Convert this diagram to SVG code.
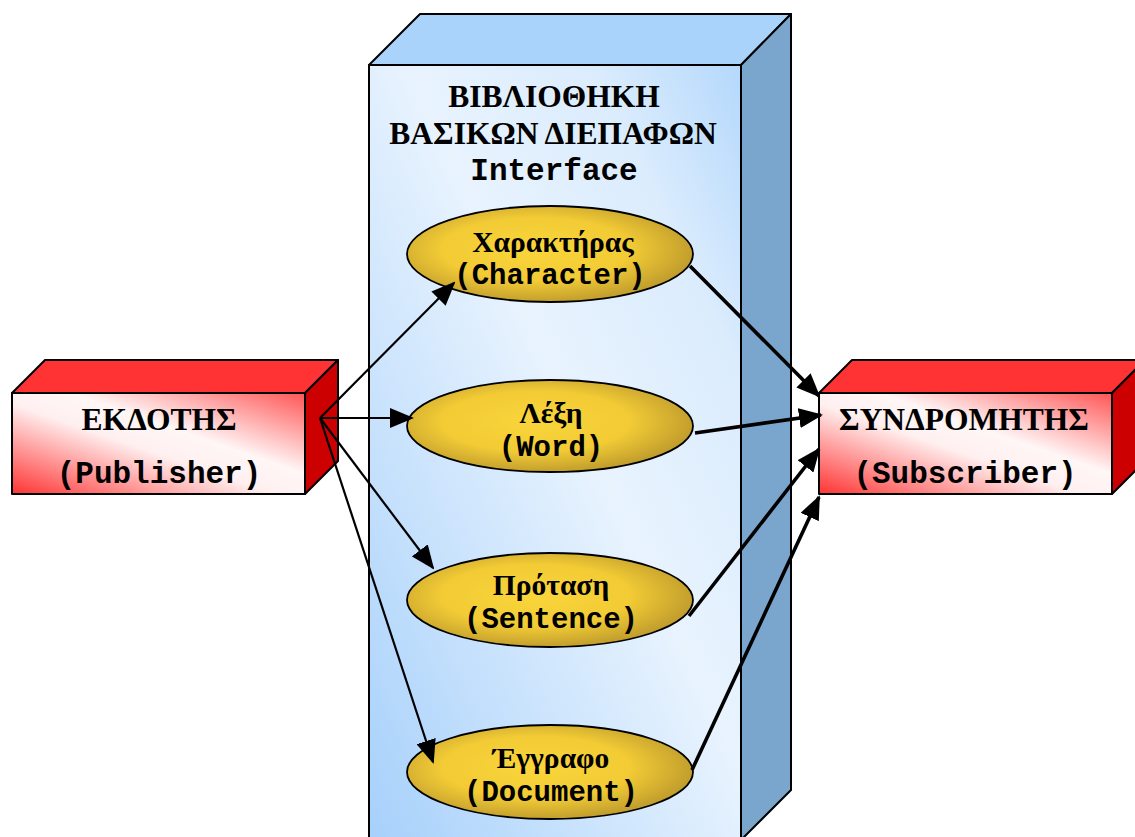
<svg xmlns="http://www.w3.org/2000/svg" width="1135" height="837" viewBox="0 0 1135 837">
<defs>
<linearGradient id="libFront" x1="0" y1="1" x2="1" y2="0">
<stop offset="0" stop-color="#a6d0fb"/>
<stop offset="0.55" stop-color="#e8f3fe"/>
<stop offset="0.8" stop-color="#dbecfd"/>
<stop offset="1" stop-color="#b4d8fc"/>
</linearGradient>
<linearGradient id="redFront" x1="0" y1="1" x2="1" y2="0">
<stop offset="0" stop-color="#ff3333"/>
<stop offset="0.45" stop-color="#fff0f0"/>
<stop offset="0.6" stop-color="#fff6f6"/>
<stop offset="1" stop-color="#ff5555"/>
</linearGradient>
<radialGradient id="gold" cx="0.45" cy="0.45" r="0.6">
<stop offset="0" stop-color="#fad53a"/>
<stop offset="0.55" stop-color="#f2cb35"/>
<stop offset="1" stop-color="#b8952c"/>
</radialGradient>
<marker id="ah" markerUnits="userSpaceOnUse" markerWidth="24" markerHeight="20" refX="22" refY="10" orient="auto">
<path d="M0,0 L24,10 L0,20 z" fill="#000"/>
</marker>
</defs>
<style>
.face{stroke:#000;stroke-width:2px;stroke-linejoin:round}
.ell{stroke:#000;stroke-width:1.8px;fill:url(#gold)}
.gr{font-family:"Liberation Serif","DejaVu Serif",serif;font-weight:bold;fill:#000;text-anchor:middle}
.mono{font-family:"Liberation Mono","DejaVu Sans Mono",monospace;font-weight:bold;fill:#000;text-anchor:middle}
.thin{stroke:#000;stroke-width:2.2px;fill:none}
.thick{stroke:#000;stroke-width:3.6px;fill:none}
</style>
<rect width="1135" height="837" fill="#fff"/>
<g id="library">
<polygon class="face" points="369,65 420,14 791,14 741,65" fill="#a9d3fb"/>
<polygon class="face" points="741,65 791,14 791,790 741,840" fill="#7aa5cd"/>
<rect class="face" x="369" y="65" width="372" height="780" fill="url(#libFront)"/>
<text class="gr" x="554" y="107" font-size="31.5">ΒΙΒΛΙΟΘΗΚΗ</text>
<text class="gr" x="553" y="144" font-size="31.5">ΒΑΣΙΚΩΝ ΔΙΕΠΑΦΩΝ</text>
<text class="mono" x="554" y="180" font-size="31">Interface</text>
</g>
<g id="character">
<ellipse class="ell" cx="550" cy="254" rx="143" ry="48"/>
<text class="gr" x="553" y="252" font-size="29.5">Χαρακτήρας</text>
<text class="mono" x="550" y="284" font-size="29">(Character)</text>
</g>
<g id="word">
<ellipse class="ell" cx="550" cy="426" rx="143" ry="46"/>
<text class="gr" x="551" y="423" font-size="29.5">Λέξη</text>
<text class="mono" x="551" y="456" font-size="29">(Word)</text>
</g>
<g id="sentence">
<ellipse class="ell" cx="550" cy="600" rx="143" ry="47"/>
<text class="gr" x="551" y="595" font-size="29.5">Πρόταση</text>
<text class="mono" x="551" y="628" font-size="29">(Sentence)</text>
</g>
<g id="document">
<ellipse class="ell" cx="550" cy="772" rx="143" ry="47"/>
<text class="gr" x="551" y="768" font-size="29.5">Έγγραφο</text>
<text class="mono" x="551" y="801" font-size="29">(Document)</text>
</g>
<g id="publisher">
<polygon class="face" points="12,393 45,360 338,360 305,393" fill="#ff3333"/>
<polygon class="face" points="305,393 338,360 338,461 305,494" fill="#cc0000"/>
<rect class="face" x="12" y="393" width="293" height="101" fill="url(#redFront)"/>
<text class="gr" x="159" y="430" font-size="31.5">ΕΚΔΟΤΗΣ</text>
<text class="mono" x="159" y="483" font-size="31">(Publisher)</text>
</g>
<g id="subscriber">
<polygon class="face" points="819,393 852,360 1145,360 1112,393" fill="#ff3333"/>
<polygon class="face" points="1112,393 1145,360 1145,461 1112,494" fill="#cc0000"/>
<rect class="face" x="819" y="393" width="293" height="101" fill="url(#redFront)"/>
<text class="gr" x="964" y="430" font-size="31.5">ΣΥΝΔΡΟΜΗΤΗΣ</text>
<text class="mono" x="965" y="483" font-size="31">(Subscriber)</text>
</g>
<g id="connectors">
<line class="thin" x1="320" y1="418" x2="454" y2="283" marker-end="url(#ah)"/>
<line class="thin" x1="320" y1="418" x2="412" y2="418" marker-end="url(#ah)"/>
<line class="thin" x1="320" y1="418" x2="433" y2="568" marker-end="url(#ah)"/>
<line class="thin" x1="320" y1="418" x2="433" y2="762" marker-end="url(#ah)"/>
<line class="thick" x1="690" y1="266" x2="819" y2="396" marker-end="url(#ah)"/>
<line class="thick" x1="695" y1="433" x2="821" y2="415" marker-end="url(#ah)"/>
<line class="thick" x1="689" y1="616" x2="819" y2="449" marker-end="url(#ah)"/>
<line class="thick" x1="692" y1="770" x2="819" y2="497" marker-end="url(#ah)"/>
</g>
</svg>
